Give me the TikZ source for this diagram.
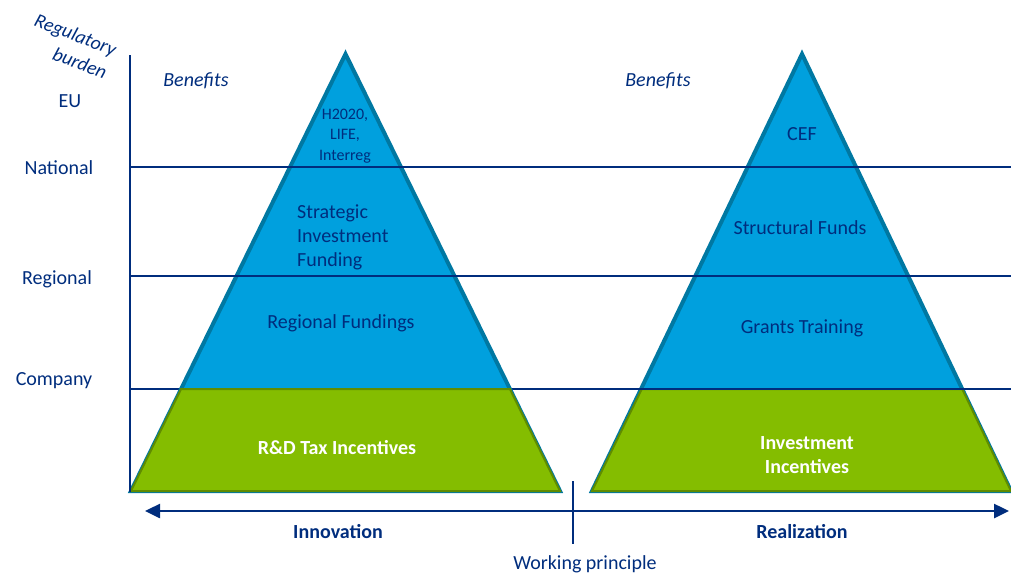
\documentclass[tikz,border=0pt]{standalone}
\usepackage{fontspec}
\setmainfont{Carlito}
\usetikzlibrary{arrows.meta}
\definecolor{navy}{RGB}{0,45,125}
\definecolor{pblue}{RGB}{0,160,222}
\definecolor{pedge}{RGB}{0,120,162}
\definecolor{pgreen}{RGB}{132,189,0}
\definecolor{pgreenedge}{RGB}{96,140,0}
\tikzset{
  lbl/.style={text=navy,inner sep=0pt,font=\fontsize{20}{24}\selectfont},
  itl/.style={lbl,font=\fontsize{20}{24}\selectfont\itshape},
  tilted/.style={lbl,rotate=-21,font=\fontsize{19.5}{23}\selectfont\itshape},
  inpyr/.style={lbl,align=center},
  inwhite/.style={inner sep=0pt,text=white,align=center,font=\fontsize{20}{24}\selectfont\bfseries},
  grid/.style={draw=navy,line width=2pt},
  pyr/.style={fill=pblue,draw=pedge,line width=4pt,line join=miter},
  base/.style={fill=pgreen,draw=pgreenedge,line width=2pt,line join=miter},
}
\begin{document}
\begin{tikzpicture}[x=1pt,y=-1pt]
\useasboundingbox (0,0) rectangle (1011,574);
% coordinates for the grid
\coordinate (axtop) at (130,55);
\coordinate (axbot) at (130,492);
\coordinate (nL) at (130,167); \coordinate (nR) at (1011,167);
\coordinate (rL) at (130,276); \coordinate (rR) at (1011,276);
\coordinate (cL) at (130,389); \coordinate (cR) at (1011,389);
\coordinate (cM) at (562,389);
% company line behind the pyramids
\draw[grid] (cL) -- (cR);
% left pyramid
\draw[pyr] (345.5,54) -- (560,491) -- (131,491) -- cycle;
\draw[base] (181.1,389) -- (509.9,389) -- (560,491) -- (131,491) -- cycle;
% right pyramid
\draw[pyr] (802,54) -- (1011,491) -- (592,491) -- cycle;
\draw[base] (641.8,389) -- (962.2,389) -- (1011,491) -- (592,491) -- cycle;
% grid lines on top
\draw[grid] (axtop) -- (axbot);
\draw[grid] (nL) -- (nR);
\draw[grid] (rL) -- (rR);
\draw[grid] (cM) -- (cR);
% bottom arrow and tick
\coordinate (aL) at (145,511);
\coordinate (aR) at (1009,511);
\coordinate (tT) at (573,481);
\coordinate (tB) at (573,544);
\draw[navy,line width=2.5pt,{Triangle[length=15pt,width=14pt]}-{Triangle[length=15pt,width=14pt]}] (aL) -- (aR);
\draw[navy,line width=2pt] (tT) -- (tB);
% left labels
\node[tilted] (reg1) at (75,36) {Regulatory};
\node[tilted] (reg2) at (80,63) {burden};
\node[lbl] (eu) at (70,101) {EU};
\node[lbl] (nat) at (59,168) {National};
\node[lbl] (regl) at (57,279) {Regional};
\node[lbl] (comp) at (54,381) {Company};
\node[itl] (ben1) at (196,81) {Benefits};
\node[itl] (ben2) at (658,81) {Benefits};
% left pyramid texts
\node[inpyr,font=\fontsize{16}{20.5}\selectfont] (h2020) at (345,136) {H2020,\\LIFE,\\Interreg};
\node[lbl,align=left,anchor=west] (sif) at (297,237) {Strategic\\Investment\\Funding};
\node[lbl] (rf) at (341,323) {Regional Fundings};
\node[inwhite] (rd) at (337,448) {R\&D Tax Incentives};
% right pyramid texts
\node[lbl] (cef) at (802,134) {CEF};
\node[lbl] (sf) at (800,228) {Structural Funds};
\node[lbl] (gt) at (802,328) {Grants Training};
\node[inwhite] (ii) at (807,455) {Investment\\Incentives};
% bottom labels
\node[lbl,font=\fontsize{20}{24}\selectfont\bfseries] (inn) at (338,532) {Innovation};
\node[lbl,font=\fontsize{20}{24}\selectfont\bfseries] (real) at (802,532) {Realization};
\node[lbl] (wp) at (585,564) {Working principle};
\end{tikzpicture}
\end{document}
